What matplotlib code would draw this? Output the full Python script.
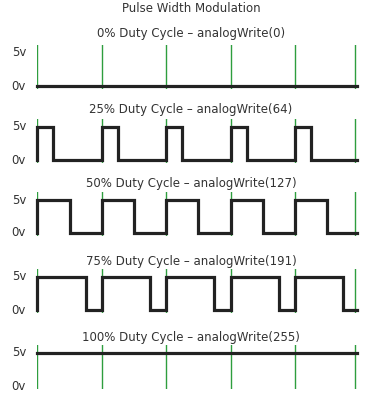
import numpy as np
import matplotlib
matplotlib.use("Agg")
import matplotlib.pyplot as plt

# ---- data ----
main_title = "Pulse Width Modulation"
duty_cycles = [0.0, 0.25, 0.5, 0.75, 1.0]
analog_values = [0, 64, 127, 191, 255]
percent_labels = ["0%", "25%", "50%", "75%", "100%"]
level_labels = ["5v", "0v"]
levels = [5, 0]
grid_x = [0, 1, 2, 3, 4, 4.93]   # period markers (green)
signal_end = 4.97                 # waveform extends slightly past last marker

# ---- layout (pixels) ----
W, H = 367, 400
fig = plt.figure(figsize=(W / 100, H / 100), dpi=100)
fig.patch.set_facecolor("white")

x0_px = 37.3
period_px = 64.4
px_per_volt = 6.6
zero_v_px = [86, 160, 233, 310, 386]
title_px = [33, 110, 183, 261, 338]
title_cx = 191
label_rx = 26
text_color = "#333333"
fs = 8.5

top_pad_v = 8 / px_per_volt
bot_pad_v = 3 / px_per_volt
ax_w_px = W - x0_px
xmax = ax_w_px / period_px


def waveform(d, end):
    if d <= 0:
        return [0, end], [0, 0]
    if d >= 1:
        return [0, end], [5, 5]
    xs, ys = [0], [0]
    k = 0
    while k < end:
        xs += [k, k + d, k + d]
        ys += [5, 5, 0]
        nxt = min(k + 1, end)
        xs.append(nxt)
        ys.append(0)
        if k + 1 < end:
            xs.append(k + 1)
            ys.append(0)
        k += 1
    return xs, ys


fig.text(title_cx / W, 1 - 9 / H, main_title, ha="center", va="center",
         fontsize=fs, color=text_color)

for i, (d, val, pct) in enumerate(zip(duty_cycles, analog_values, percent_labels)):
    y0 = zero_v_px[i]
    top_px = y0 - 5 * px_per_volt - 8
    bot_px = y0 + 3
    ax = fig.add_axes([x0_px / W, 1 - bot_px / H, ax_w_px / W, (bot_px - top_px) / H])
    ax.set_xlim(0, xmax)
    ax.set_ylim(-bot_pad_v, 5 + top_pad_v)
    ax.axis("off")
    for gx in grid_x:
        ax.axvline(gx, color="#2e9e3e", lw=1.0, zorder=1)
    xs, ys = waveform(d, signal_end)
    ax.plot(xs, ys, color="#222222", lw=2.3, solid_joinstyle="miter",
            solid_capstyle="projecting", zorder=3, clip_on=False)
    for lab, lv in zip(level_labels, levels):
        ypx = y0 - lv * px_per_volt
        fig.text(label_rx / W, 1 - ypx / H, lab, ha="right", va="center",
                 fontsize=fs, color=text_color)
    fig.text(title_cx / W, 1 - title_px[i] / H,
             f"{pct} Duty Cycle \u2013 analogWrite({val})",
             ha="center", va="center", fontsize=fs, color=text_color)

fig.savefig("out.png", dpi=100, facecolor="white")
